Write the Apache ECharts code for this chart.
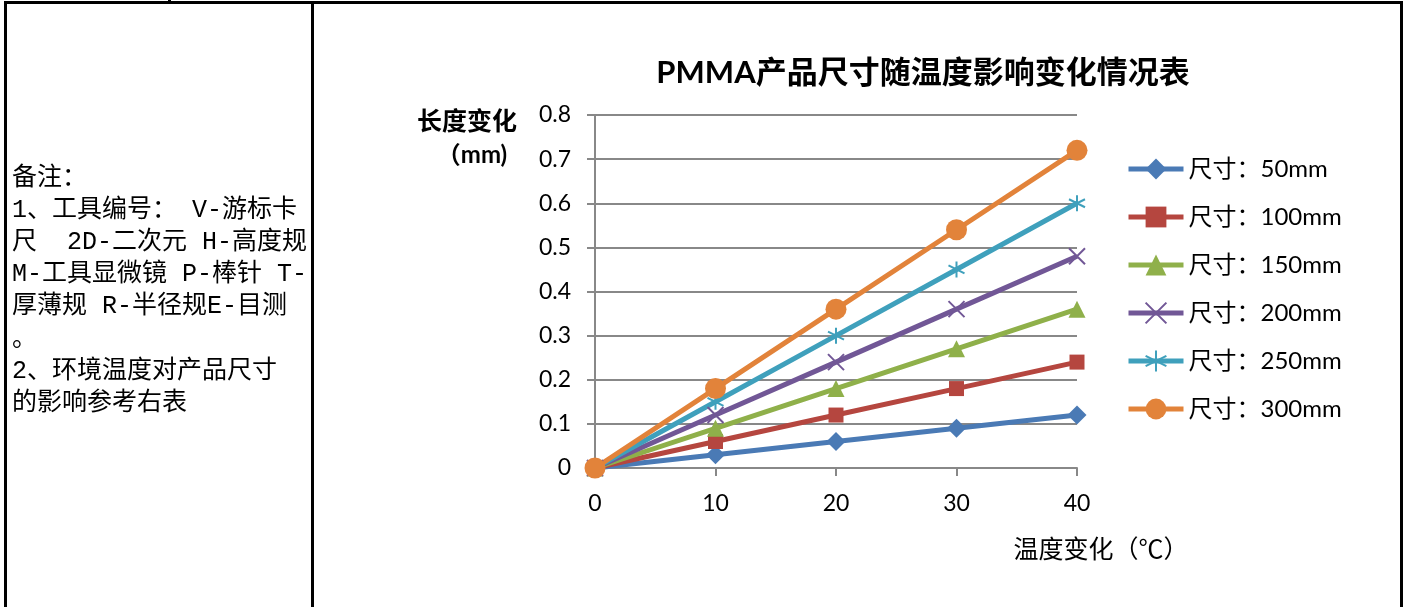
<!DOCTYPE html>
<html><head><meta charset="utf-8">
<script src="https://cdn.jsdelivr.net/npm/echarts@6/dist/echarts.min.js"></script>
<style>html,body{margin:0;padding:0;background:#fff;}#c{width:1409px;height:607px;}</style>
</head><body><div id="c"></div>
<script>
const temps = [0, 10, 20, 30, 40];
const seriesNames = ['尺寸：50mm','尺寸：100mm','尺寸：150mm','尺寸：200mm','尺寸：250mm','尺寸：300mm'];
const s50  = [0, 0.03, 0.06, 0.09, 0.12];
const s100 = [0, 0.06, 0.12, 0.18, 0.24];
const s150 = [0, 0.09, 0.18, 0.27, 0.36];
const s200 = [0, 0.12, 0.24, 0.36, 0.48];
const s250 = [0, 0.15, 0.30, 0.45, 0.60];
const s300 = [0, 0.18, 0.36, 0.54, 0.72];
const noteLines = ['备注：','1、工具编号： V-游标卡','尺  2D-二次元 H-高度规','M-工具显微镜 P-棒针 T-','厚薄规 R-半径规E-目测','。','2、环境温度对产品尺寸','的影响参考右表'];

const colors = ['#4A7AB5','#B5463F','#8FB04A','#715796','#3FA0BC','#E2833A'];
const values = [s50,s100,s150,s200,s250,s300];
const symbols = ['diamond','rect','triangle',
  'path://M0,0L10,10M10,0L0,10',
  'path://M5,0L5,10M0.7,2.5L9.3,7.5M9.3,2.5L0.7,7.5',
  'circle'];
const sizes = [19, 15, 17, 16, 16, 21];
const FONT = "Lato, 'Noto Sans CJK SC', sans-serif";

const series = values.map((v, i) => {
  const stroke = i === 3 || i === 4;
  return {
    name: seriesNames[i], type: 'line',
    data: temps.map((t, j) => [t, v[j]]),
    symbol: symbols[i], symbolSize: sizes[i], showAllSymbol: true,
    lineStyle: { color: colors[i], width: 5 },
    itemStyle: stroke ? { color: 'rgba(0,0,0,0)', borderColor: colors[i], borderWidth: 2 } : { color: colors[i], borderWidth: 0 },
    emphasis: { disabled: true },
    animation: false
  };
});

const graphics = [
  { type: 'rect', shape: { x: 4, y: 1, width: 1399, height: 3 }, style: { fill: '#000' } },
  { type: 'rect', shape: { x: 168, y: 0, width: 3, height: 3 }, style: { fill: '#000' } },
  { type: 'rect', shape: { x: 4, y: 1, width: 3, height: 610 }, style: { fill: '#000' } },
  { type: 'rect', shape: { x: 311, y: 1, width: 3, height: 610 }, style: { fill: '#000' } },
  { type: 'rect', shape: { x: 1400, y: 1, width: 3, height: 610 }, style: { fill: '#000' } },
  { type: 'text', x: 467, y: 120, style: { text: '长度变化', font: "bold 25px 'Noto Sans CJK SC'", fill: '#000', textAlign: 'center', textVerticalAlign: 'middle' } },
  { type: 'text', x: 472, y: 155, style: { text: '（mm)', font: "bold 24px " + FONT, fill: '#000', textAlign: 'center', textVerticalAlign: 'middle' } },
  { type: 'text', x: 1101, y: 548, style: { text: '温度变化（℃）', font: "25px 'Noto Sans CJK SC'", fill: '#000', textAlign: 'center', textVerticalAlign: 'middle' } }
];
noteLines.forEach((t, i) => {
  graphics.push({ type: 'text', x: 12, y: 178 + i * 32.2, style: { text: t, font: "25px 'Liberation Mono', 'Noto Sans CJK SC'", fill: '#000', textAlign: 'left', textVerticalAlign: 'middle' } });
});

const chart = echarts.init(document.getElementById('c'));
chart.setOption({
  backgroundColor: '#fff',
  animation: false,
  title: { text: 'PMMA产品尺寸随温度影响变化情况表', left: 918, top: 53, textAlign: 'center',
    textStyle: { fontFamily: FONT, fontSize: 31, fontWeight: 'bold', color: '#000' } },
  legend: {
    orient: 'vertical', left: 1121, top: 151,
    itemWidth: 55, itemHeight: 26, itemGap: 22,
    lineStyle: { width: 5 },
    textStyle: { fontFamily: FONT, fontSize: 24, color: '#000', lineHeight: 26 },
    data: seriesNames
  },
  grid: { left: 595, top: 115, width: 482, height: 353, containLabel: false },
  xAxis: {
    type: 'value', min: 0, max: 40, interval: 10,
    axisLine: { show: true, lineStyle: { color: '#888', width: 2 } },
    axisTick: { show: true, length: 8, lineStyle: { color: '#888', width: 2 } },
    axisLabel: { margin: 24, fontFamily: FONT, fontSize: 23, color: '#000' },
    splitLine: { show: false }
  },
  yAxis: {
    type: 'value', min: 0, max: 0.8, interval: 0.1,
    axisLine: { show: true, lineStyle: { color: '#888', width: 2 } },
    axisTick: { show: true, length: 8, lineStyle: { color: '#888', width: 2 } },
    axisLabel: { margin: 24, fontFamily: FONT, fontSize: 23, color: '#000' },
    splitLine: { show: true, lineStyle: { color: '#888', width: 2 } }
  },
  graphic: graphics,
  series: series
});
</script></body></html>
